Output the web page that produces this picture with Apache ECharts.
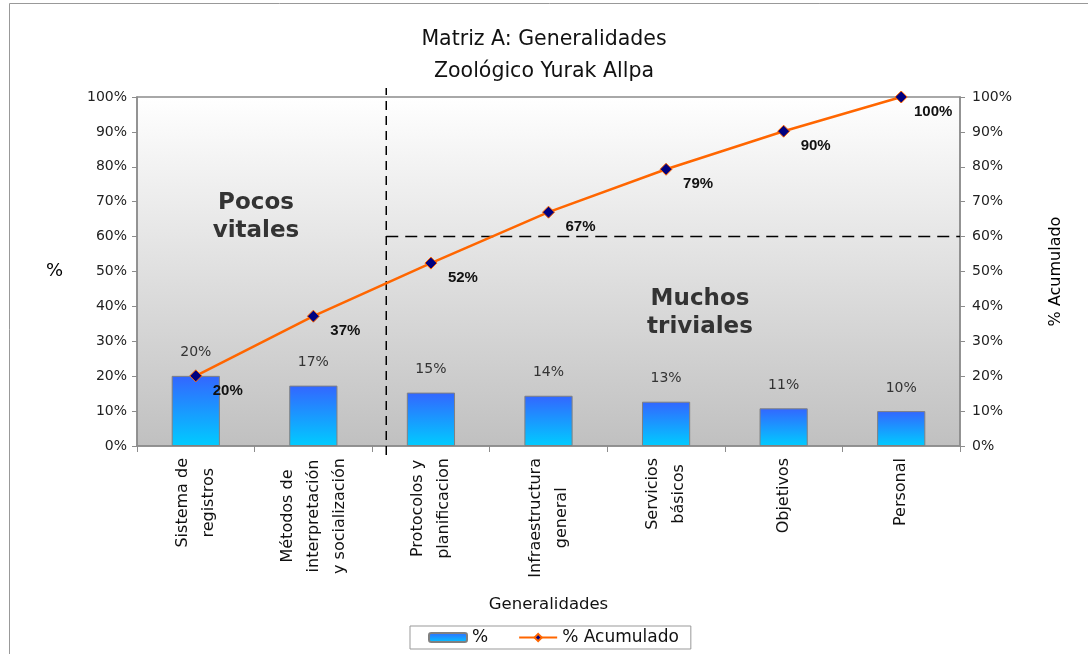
<!DOCTYPE html>
<html><head><meta charset="utf-8">
<script src="https://cdn.jsdelivr.net/npm/echarts@6/dist/echarts.min.js"></script>
<style>html,body{margin:0;padding:0;background:#fff}#c{width:1088px;height:654px}</style>
</head><body><div id="c"></div>
<script>
const categories = ['Sistema de\nregistros','Métodos de\ninterpretación\ny socialización','Protocolos y\nplanificacion','Infraestructura\ngeneral','Servicios\nbásicos','Objetivos','Personal'];
const pctValues = [20.1, 17.3, 15.3, 14.4, 12.7, 10.8, 10.0];
const cumValues = [20.1, 37.2, 52.4, 67.0, 79.3, 90.2, 100];
const yTicks = [0,10,20,30,40,50,60,70,80,90,100];
const threshold = 60;      // % acumulado cut-off
const dividerPos = 2.12;   // category-space position of vertical divider
const FONT = 'DejaVu Sans';

const chart = echarts.init(document.getElementById('c'));
const yAxisCommon = {
  type:'value', min:yTicks[0], max:yTicks[yTicks.length-1], interval:yTicks[1]-yTicks[0],
  axisLine:{show:true, lineStyle:{color:'#8c8c8c', width:1.5}},
  axisTick:{show:true, inside:false, length:5, lineStyle:{color:'#8c8c8c'}},
  splitLine:{show:false},
  axisLabel:{formatter:'{value}%', color:'#222', fontFamily:FONT, fontSize:14, margin:10},
  nameTextStyle:{color:'#000', fontFamily:FONT, fontSize:16}
};
chart.setOption({
  animation:false,
  backgroundColor:'#fff',
  title:{text:'Matriz A: Generalidades\nZoológico Yurak Allpa', left:'center', top:19,
    textStyle:{fontFamily:FONT, fontWeight:'normal', fontSize:20.5, color:'#111', lineHeight:32}},
  grid:{left:137, right:128, top:97, bottom:208, show:true, borderColor:'#8c8c8c', borderWidth:1.5,
    backgroundColor:new echarts.graphic.LinearGradient(0,0,0,1,[{offset:0,color:'#ffffff'},{offset:1,color:'#c0c0c0'}])},
  legend:{data:['%','% Acumulado'], left:410, top:626, itemWidth:38, itemHeight:9, itemGap:30,
    borderColor:'#999', borderWidth:1, padding:[3,12,3,18], borderRadius:0,
    textStyle:{fontFamily:FONT, fontSize:17, color:'#111'}},
  xAxis:[{
    type:'category', data:categories, name:'Generalidades', nameLocation:'middle', nameGap:150,
    nameTextStyle:{fontFamily:FONT, fontSize:16.5, color:'#111'},
    axisLine:{lineStyle:{color:'#8c8c8c', width:1.5}},
    axisTick:{show:true, length:6, alignWithLabel:false, lineStyle:{color:'#8c8c8c'}},
    axisLabel:{rotate:90, interval:0, margin:12, color:'#111', fontFamily:FONT, fontSize:16, lineHeight:26,
      formatter:v=>v.split('\n').map(s=>'{c|'+s+'}').join('\n'),
      rich:{c:{align:'center', fontFamily:FONT, fontSize:16, lineHeight:26, color:'#111'}}}
  },{
    type:'value', min:0, max:categories.length, show:false
  }],
  yAxis:[
    Object.assign({}, yAxisCommon, {position:'left', name:'%', nameLocation:'middle', nameGap:74, nameRotate:0,
      nameTextStyle:{color:'#000', fontFamily:FONT, fontSize:18}}),
    Object.assign({}, yAxisCommon, {position:'right', name:'% Acumulado', nameLocation:'middle', nameGap:88, nameRotate:90,
      axisLabel:Object.assign({}, yAxisCommon.axisLabel, {margin:12})})
  ],
  graphic:[
    {type:'rect', shape:{x:9.5, y:3.5, width:1200, height:800}, style:{fill:'none', stroke:'#999', lineWidth:1}, silent:true},
    {type:'text', x:256, y:217, style:{text:'Pocos\nvitales', fontFamily:FONT, fontWeight:'bold', fontSize:23, fill:'#333', align:'center', verticalAlign:'middle', lineHeight:28}},
    {type:'text', x:700, y:313, style:{text:'Muchos\ntriviales', fontFamily:FONT, fontWeight:'bold', fontSize:23, fill:'#333', align:'center', verticalAlign:'middle', lineHeight:28}}
  ],
  series:[
    {name:'%', type:'bar', data:pctValues, barWidth:'41%', yAxisIndex:0,
     itemStyle:{color:new echarts.graphic.LinearGradient(0,0,0,1,[{offset:0,color:'#3366ff'},{offset:1,color:'#00ccff'}]),
       borderColor:'#808080', borderWidth:1},
     label:{show:true, position:'top', distance:16, color:'#333', fontFamily:FONT, fontSize:14,
       formatter:p=>Math.round(p.value)+'%'}},
    {name:'% Acumulado', type:'line', data:cumValues, yAxisIndex:1, symbol:'diamond', symbolSize:12,
     lineStyle:{color:'#ff6600', width:2.5}, itemStyle:{color:'#000080', borderColor:'#ff6600', borderWidth:1},
     label:{show:true, position:'inside', align:'center', verticalAlign:'middle', offset:[32,15], color:'#111', fontFamily:'Liberation Sans', fontWeight:'bold', fontSize:15,
       formatter:p=>Math.round(p.value)+'%'}, z:5},
    {name:'divider', type:'line', xAxisIndex:1, yAxisIndex:0, clip:false, silent:true, symbol:'none',
     data:[[dividerPos,-2.6],[dividerPos,102.6]], lineStyle:{color:'#000', width:1.5, type:[9,6]}, z:4},
    {name:'threshold', type:'line', xAxisIndex:1, yAxisIndex:0, clip:false, silent:true, symbol:'none',
     data:[[dividerPos,threshold],[categories.length,threshold]], lineStyle:{color:'#000', width:1.5, type:[12,7]}, z:4}
  ]
});
</script></body></html>
